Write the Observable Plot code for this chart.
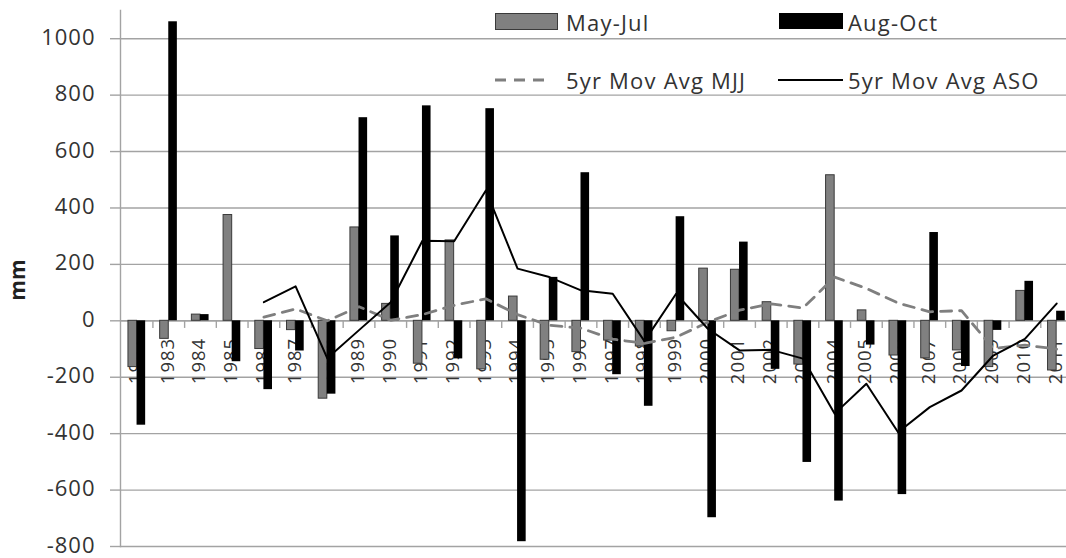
<!DOCTYPE html>
<html>
<head>
<meta charset="utf-8">
<script src="https://cdn.jsdelivr.net/npm/d3@7"></script>
<script src="https://cdn.jsdelivr.net/npm/@observablehq/plot@0.6"></script>
<style>
  html, body { margin: 0; padding: 0; background: #fff; overflow: hidden; }
  #wrap { position: relative; width: 1066px; height: 558px; overflow: hidden; }
  #wrap svg { position: absolute; left: 0; top: 0; overflow: hidden; }
  .leg { position: absolute; font-family: "Open Sans", sans-serif; font-size: 22px; color: #333; line-height: 1; white-space: nowrap; letter-spacing: 1.2px; }
  #ylab { position: absolute; left: 17px; top: 280px; transform: translate(-50%, -50%) rotate(-90deg); font-family: "Open Sans", sans-serif; font-weight: bold; font-size: 21px; color: #222; }
</style>
</head>
<body>
<div id="wrap"></div>
<script>
const years = [1982,1983,1984,1985,1986,1987,1988,1989,1990,1991,1992,1993,1994,1995,1996,1997,1998,1999,2000,2001,2002,2003,2004,2005,2006,2007,2008,2009,2010,2011];
const mayJul = [-164,-64,22,375,-100,-33,-276,331,60,-152,285,-172,86,-138,-111,-70,-91,-37,185,181,66,-155,516,37,-123,-133,-105,-164,106,-176];
const augOct = [-370,1060,22,-145,-244,-107,-260,720,301,762,-135,752,-783,154,525,-191,-303,369,-698,279,-172,-502,-639,-86,-616,313,-162,-34,140,34];
const avgYears = [1986,1987,1988,1989,1990,1991,1992,1993,1994,1995,1996,1997,1998,1999,2000,2001,2002,2003,2004,2005,2006,2007,2008,2009,2010,2011];
const avgMJJ = [13,42,0,50,2,22,55,78,22,-16,-26,-65,-80,-58,-5,38,60,45,155,115,63,32,36,-98,-86,-100];
const avgASO = [66,122,-133,-33,66,284,282,462,185,155,108,96,-72,96,-28,-105,-103,-134,-329,-223,-395,-306,-247,-123,-64,61];
const yTicks = [-800,-600,-400,-200,0,200,400,600,800,1000];

const bars = years.map((y, i) => ({year: y, mjj: mayJul[i], aso: augOct[i]}));
const lineM = avgYears.map((y, i) => ({year: y, v: avgMJJ[i]}));
const lineA = avgYears.map((y, i) => ({year: y, v: avgASO[i]}));

const W = 1066, H = 558;
const x0 = 120.7, x1 = 1072;
const step = (x1 - x0) / years.length;
const barW = 8.6;
const grid = "#a3a3a3";
const font = "Open Sans, sans-serif";

const chart = Plot.plot({
  width: W,
  height: H,
  marginLeft: 120,
  marginRight: 0,
  marginTop: 10,
  marginBottom: 12,
  style: {background: "#fff", fontFamily: font, letterSpacing: "1px"},
  x: {type: "band", domain: years, range: [x0, x1], padding: 0, round: false, axis: null},
  y: {domain: [-800, 1100], axis: null},
  marks: [
    Plot.gridY(yTicks, {stroke: grid, strokeOpacity: 1, strokeWidth: 1.4}),
    Plot.axisY(yTicks, {tickSize: 10, text: null, stroke: grid, strokeOpacity: 1, strokeWidth: 1.4, label: null}),
    Plot.axisY(yTicks, {tickSize: 0, tickPadding: 25, fontSize: 22, fill: "#333", label: null, fontFamily: font, tickFormat: d => String(d), dy: -1}),
    Plot.frame({anchor: "left", stroke: grid, strokeWidth: 1.4}),
    Plot.ruleY([0], {stroke: grid, strokeWidth: 1.4}),
    Plot.ruleX(years, {x: d => d, y1: 0, y2: -27, dx: step / 2, stroke: grid, strokeWidth: 1.4}),
    Plot.text(years, {x: d => d, y: 0, text: d => String(d), rotate: -90, textAnchor: "end", dy: 17, dx: -1, fontSize: 18.5, fill: "#333", fontFamily: font}),
    Plot.barY(bars, {x: "year", y: "mjj", fill: "#808080", stroke: "#3a3a3a", strokeWidth: 1, insetLeft: step / 2 - barW, insetRight: step / 2}),
    Plot.barY(bars, {x: "year", y: "aso", fill: "#000", insetLeft: step / 2, insetRight: step / 2 - barW}),
    Plot.line(lineM, {x: "year", y: "v", stroke: "#7f7f7f", strokeWidth: 2.8, strokeDasharray: "11,8"}),
    Plot.line(lineA, {x: "year", y: "v", stroke: "#000", strokeWidth: 2})
  ]
});

const wrap = document.getElementById("wrap");
wrap.appendChild(chart);

// legend overlay (inside plot area, top)
function addLegend(swatchHTML, left, top, text, textLeft) {
  const s = document.createElement("div");
  s.style.position = "absolute";
  s.style.left = left + "px";
  s.style.top = top + "px";
  s.innerHTML = swatchHTML;
  wrap.appendChild(s);
  const t = document.createElement("div");
  t.className = "leg";
  t.style.left = textLeft + "px";
  t.style.top = (top - 2) + "px";
  t.textContent = text;
  wrap.appendChild(t);
}
const legItems = [
  {sw: '<svg width="64" height="18"><rect x="0.5" y="0.5" width="62" height="16" fill="#808080" stroke="#3a3a3a" stroke-width="1"/></svg>', l: 495, t: 13, label: "May-Jul", tl: 566},
  {sw: '<svg width="65" height="18"><rect x="0" y="0" width="64" height="16" fill="#000"/></svg>', l: 779, t: 13, label: "Aug-Oct", tl: 848},
  {sw: '<svg width="56" height="18"><line x1="0" y1="9" x2="54" y2="9" stroke="#7f7f7f" stroke-width="2.8" stroke-dasharray="11,8"/></svg>', l: 495, t: 71, label: "5yr Mov Avg MJJ", tl: 566},
  {sw: '<svg width="66" height="18"><line x1="0" y1="9" x2="65" y2="9" stroke="#000" stroke-width="2"/></svg>', l: 778, t: 71, label: "5yr Mov Avg ASO", tl: 848}
];
legItems.forEach(d => addLegend(d.sw, d.l, d.t, d.label, d.tl));

const yl = document.createElement("div");
yl.id = "ylab";
yl.textContent = "mm";
wrap.appendChild(yl);
</script>
</body>
</html>
